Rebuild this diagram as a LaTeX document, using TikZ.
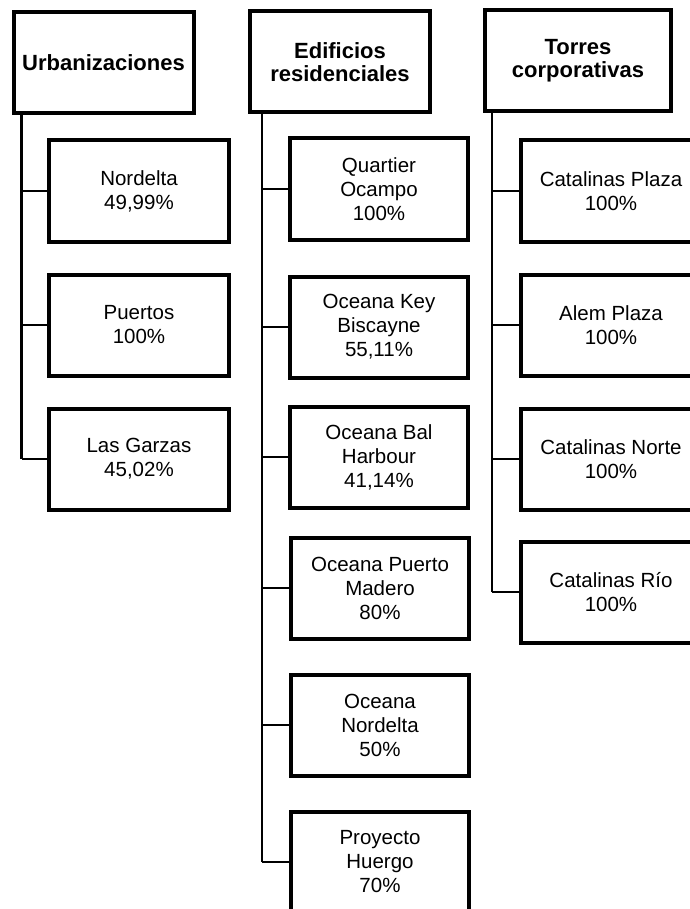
\documentclass[tikz,border=0pt]{standalone}
\usepackage{fontspec}
\setmainfont{Liberation Sans}
\usepackage{tikz}

\tikzset{
	headbox/.style={draw, line width=4pt, minimum width=180pt, minimum height=101pt,
		align=center, font=\fontsize{22}{23}\selectfont\bfseries, inner sep=0pt},
	itembox/.style={draw, line width=4pt, minimum width=180pt, minimum height=101pt,
		align=center, font=\fontsize{20.5}{24}\selectfont, inner sep=0pt},
	trunk/.style={line width=2.2pt},
	branch/.style={line width=1.5pt}
}

\begin{document}
\begin{tikzpicture}[x=1pt, y=-1pt]
			\useasboundingbox (0,0) rectangle (689,909);

			% encabezados
			\node[headbox] (urb) at (103.5, 62.5) {Urbanizaciones};
			\node[headbox] (edif) at (340, 62) {Edificios\\residenciales};
			\node[headbox, minimum width=186pt] (torres) at (578, 61) {Torres\\corporativas};

			% urbanizaciones
			\node[itembox] (nordelta) at (139, 191) {Nordelta\\49,99\%};
			\node[itembox] (puertos) at (139, 325) {Puertos\\100\%};
			\node[itembox] (garzas) at (139, 459) {Las Garzas\\45,02\%};

			% edificios residenciales
			\node[itembox, minimum width=178pt] (quartier) at (379, 189) {Quartier\\Ocampo\\100\%};
			\node[itembox, minimum width=178pt] (keybisc) at (379, 327) {Oceana Key\\Biscayne\\55,11\%};
			\node[itembox, minimum width=178pt] (balhar) at (379, 457) {Oceana Bal\\Harbour\\41,14\%};
			\node[itembox, minimum width=178pt] (madero) at (380, 588) {Oceana Puerto\\Madero\\80\%};
			\node[itembox, minimum width=178pt] (onordelta) at (380, 725) {Oceana\\Nordelta\\50\%};
			\node[itembox, minimum width=178pt] (huergo) at (380, 862) {Proyecto\\Huergo\\70\%};

			% torres corporativas
			\node[itembox] (catplaza) at (611, 191) {Catalinas Plaza\\100\%};
			\node[itembox] (alem) at (611, 325) {Alem Plaza\\100\%};
			\node[itembox] (catnorte) at (611, 459) {Catalinas Norte\\100\%};
			\node[itembox] (catrio) at (611, 592) {Catalinas Río\\100\%};

			\coordinate (urbtrunk) at ([xshift=10pt]urb.south west);
			\coordinate (ediftrunk) at ([xshift=14pt]edif.south west);
			\coordinate (torrestrunk) at ([xshift=9pt]torres.south west);

			\draw[trunk] (urbtrunk) -- (urbtrunk |- garzas.west);
			\draw[branch] (nordelta.west) -- (nordelta.west -| urbtrunk);
			\draw[branch] (puertos.west) -- (puertos.west -| urbtrunk);
			\draw[branch] (garzas.west) -- (garzas.west -| urbtrunk);

			\draw[trunk] (ediftrunk) -- (ediftrunk |- huergo.west);
			\draw[branch] (quartier.west) -- (quartier.west -| ediftrunk);
			\draw[branch] (keybisc.west) -- (keybisc.west -| ediftrunk);
			\draw[branch] (balhar.west) -- (balhar.west -| ediftrunk);
			\draw[branch] (madero.west) -- (madero.west -| ediftrunk);
			\draw[branch] (onordelta.west) -- (onordelta.west -| ediftrunk);
			\draw[branch] (huergo.west) -- (huergo.west -| ediftrunk);

			\draw[trunk] (torrestrunk) -- (torrestrunk |- catrio.west);
			\draw[branch] (catplaza.west) -- (catplaza.west -| torrestrunk);
			\draw[branch] (alem.west) -- (alem.west -| torrestrunk);
			\draw[branch] (catnorte.west) -- (catnorte.west -| torrestrunk);
			\draw[branch] (catrio.west) -- (catrio.west -| torrestrunk);
		\end{tikzpicture}
\end{document}
